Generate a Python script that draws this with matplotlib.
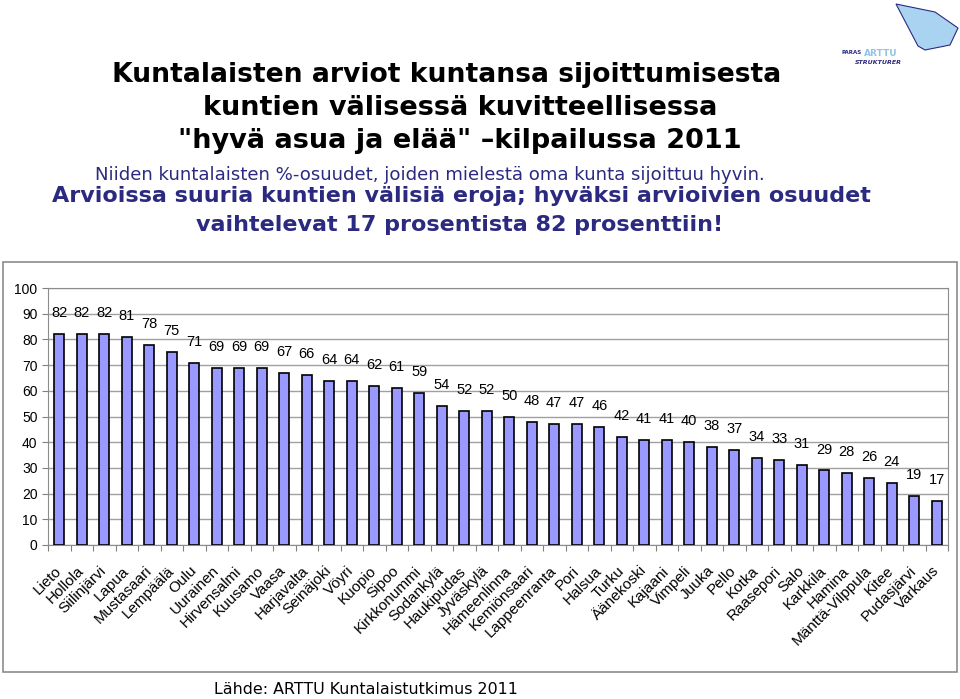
import matplotlib.pyplot as plt
import numpy as np
from matplotlib.patches import Rectangle, Polygon

kunnat = ["Lieto", "Hollola", "Siilinjärvi", "Lapua", "Mustasaari", "Lempäälä", "Oulu",
          "Uurainen", "Hirvensalmi", "Kuusamo", "Vaasa", "Harjavalta", "Seinäjoki", "Vöyri",
          "Kuopio", "Sipoo", "Kirkkonummi", "Sodankylä", "Haukipudas", "Jyväskylä",
          "Hämeenlinna", "Kemiönsaari", "Lappeenranta", "Pori", "Halsua", "Turku",
          "Äänekoski", "Kajaani", "Vimpeli", "Juuka", "Pello", "Kotka", "Raasepori", "Salo",
          "Karkkila", "Hamina", "Mänttä-Vilppula", "Kitee", "Pudasjärvi", "Varkaus"]
osuudet = [82, 82, 82, 81, 78, 75, 71, 69, 69, 69, 67, 66, 64, 64, 62, 61, 59, 54, 52, 52,
           50, 48, 47, 47, 46, 42, 41, 41, 40, 38, 37, 34, 33, 31, 29, 28, 26, 24, 19, 17]
y_ticks = [0, 10, 20, 30, 40, 50, 60, 70, 80, 90, 100]

navy = "#2B2A80"
W, H = 960, 699
fig = plt.figure(figsize=(9.6, 6.99), dpi=100)

# outer frame round the chart area
fig.patches.append(Rectangle((3 / W, 1 - 672 / H), 954 / W, 410 / H, transform=fig.transFigure,
                             fill=False, edgecolor="#8C8C8C", lw=1.2))

ax = fig.add_axes([48 / W, 1 - 545 / H, 900 / W, 257 / H])
x = np.arange(len(kunnat))
ax.bar(x, osuudet, width=0.45, color="#9999FF", edgecolor="black", lw=1.2, zorder=3)
for xi, v in zip(x, osuudet):
    ax.annotate(str(v), (xi, v), xytext=(0, 10), textcoords="offset points",
                ha="center", va="bottom", fontsize=10.5, family="Liberation Sans")

ax.set_xlim(-0.5, len(kunnat) - 0.5)
ax.set_ylim(0, 100)
ax.set_yticks(y_ticks)
ax.set_yticklabels([str(t) for t in y_ticks], family="Liberation Sans", fontsize=10)
ax.yaxis.grid(True, color="#A0A0A0", lw=1)
ax.set_axisbelow(True)
ax.set_xticks(np.arange(len(kunnat) + 1) - 0.5)
ax.set_xticklabels([])
ax.set_xticks(x, minor=True)
ax.set_xticklabels(kunnat, minor=True, rotation=45, ha="right", va="center",
                   rotation_mode="anchor", family="Liberation Sans", fontsize=11)
ax.tick_params(axis="x", which="minor", length=0, pad=17)
ax.tick_params(axis="both", which="major", length=4, color="#808080")
for s in ax.spines.values():
    s.set_color("#8C8C8C")

# otsikot
fig.text(447 / W, 1 - 75 / H, "Kuntalaisten arviot kuntansa sijoittumisesta",
         ha="center", va="center", fontsize=19.2, fontweight="bold")
fig.text(460 / W, 1 - 108 / H, "kuntien välisessä kuvitteellisessa",
         ha="center", va="center", fontsize=19.5, fontweight="bold")
fig.text(460 / W, 1 - 141 / H, "\"hyvä asua ja elää\" \u2013kilpailussa 2011",
         ha="center", va="center", fontsize=19.5, fontweight="bold")
fig.text(430 / W, 1 - 175 / H, "Niiden kuntalaisten %-osuudet, joiden mielestä oma kunta sijoittuu hyvin.",
         ha="center", va="center", fontsize=13.1, color=navy)
fig.text(461 / W, 1 - 196 / H, "Arvioissa suuria kuntien välisiä eroja; hyväksi arvioivien osuudet",
         ha="center", va="center", fontsize=16, fontweight="bold", color=navy)
fig.text(460 / W, 1 - 225 / H, "vaihtelevat 17 prosentista 82 prosenttiin!",
         ha="center", va="center", fontsize=16, fontweight="bold", color=navy)
fig.text(366 / W, 1 - 690 / H, "Lähde: ARTTU Kuntalaistutkimus 2011",
         ha="center", va="center", fontsize=11.4)

# logo
sail = [(896, 4), (935, 12), (958, 28), (950, 45), (925, 50), (918, 46)]
fig.patches.append(Polygon([(px / W, 1 - py / H) for px, py in sail], closed=True,
                           transform=fig.transFigure, facecolor="#A9D3F0",
                           edgecolor=navy, lw=0.8))
fig.text(842 / W, 1 - 53 / H, "PARAS", fontsize=4, fontweight="bold", color=navy, va="center")
fig.text(864 / W, 1 - 53 / H, "ARTTU", fontsize=6.5, fontweight="bold", color="#8FC4EA", va="center")
fig.text(855 / W, 1 - 62 / H, "STRUKTURER", fontsize=4.5, fontweight="bold", style="italic",
         color=navy, va="center")

fig.savefig("out.png", dpi=100)
